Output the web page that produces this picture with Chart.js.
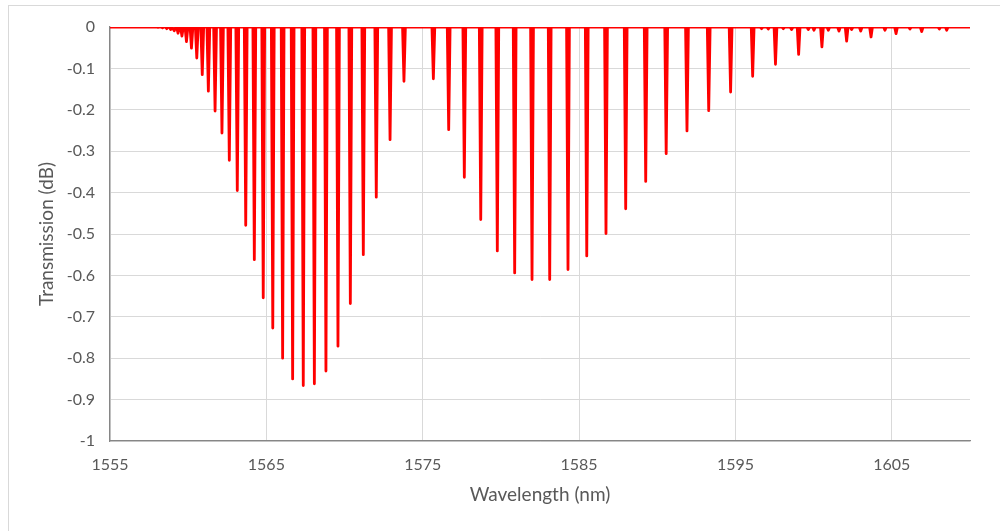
<!DOCTYPE html>
<html>
<head>
<meta charset="utf-8">
<script src="https://cdn.jsdelivr.net/npm/chart.js@4.4.0/dist/chart.umd.min.js"></script>
<style>
  html, body { margin: 0; padding: 0; background: #ffffff; }
  #wrap { width: 1000px; height: 531px; position: relative; }
</style>
</head>
<body>
<div id="wrap"><canvas id="c" width="1000" height="531"></canvas></div>
<script>
// ---- Data ----
// main resonance dips: wavelength (nm) and transmission at the dip (dB)
const dipWavelengths = [
  1558.07, 1558.36, 1558.63, 1558.88, 1559.11, 1559.35, 1559.60, 1559.89, 1560.21, 1560.55,
  1560.90, 1561.29, 1561.72, 1562.16, 1562.63, 1563.14, 1563.68, 1564.23, 1564.80, 1565.41,
  1566.04, 1566.68, 1567.36, 1568.07, 1568.81, 1569.58, 1570.37, 1571.20, 1572.03, 1572.91,
  1573.80, 1575.68, 1576.66, 1577.66, 1578.71, 1579.77, 1580.88, 1581.99, 1583.12, 1584.29,
  1585.49, 1586.72, 1587.98, 1589.26, 1590.57, 1591.90, 1593.29, 1594.69, 1596.10, 1597.56,
  1599.04, 1600.53, 1602.11, 1603.67, 1605.27, 1606.91, 1608.51
];
const dipDepths = [
  -0.001, -0.002, -0.004, -0.006, -0.009, -0.015, -0.022, -0.035, -0.051, -0.075,
  -0.115, -0.155, -0.203, -0.256, -0.322, -0.395, -0.479, -0.562, -0.654, -0.727,
  -0.800, -0.850, -0.866, -0.862, -0.831, -0.771, -0.668, -0.550, -0.411, -0.272,
  -0.131, -0.125, -0.248, -0.363, -0.465, -0.541, -0.594, -0.610, -0.610, -0.586,
  -0.553, -0.499, -0.439, -0.373, -0.306, -0.251, -0.202, -0.157, -0.119, -0.090,
  -0.066, -0.048, -0.034, -0.024, -0.016, -0.011, -0.008
];
// weak secondary dips on the long-wavelength side
const minorWavelengths = [1596.67, 1597.10, 1598.06, 1598.59, 1599.66, 1600.02, 1600.94, 1601.62,
  1602.43, 1603.01, 1604.56, 1606.16, 1608.04];
const minorDepths = [-0.004, -0.005, -0.004, -0.006, -0.006, -0.008, -0.008, -0.010,
  -0.006, -0.010, -0.008, -0.005, -0.005];
const baseline = 0;
const xRange = [1555, 1610];
const xTicks = [1555, 1565, 1575, 1585, 1595, 1605];
const yTicks = [0, -0.1, -0.2, -0.3, -0.4, -0.5, -0.6, -0.7, -0.8, -0.9, -1];
const xTitle = 'Wavelength (nm)';
const yTitle = 'Transmission (dB)';

// ---- Build the line points from the dip lists ----
const halfWidth = 0.09; // nm, visual half width of each dip
const dips = dipWavelengths.map((w, i) => ({ w, d: dipDepths[i] }))
  .concat(minorWavelengths.map((w, i) => ({ w, d: minorDepths[i] })))
  .sort((a, b) => a.w - b.w);
const points = [{ x: xRange[0], y: baseline }];
dips.forEach(p => {
  points.push({ x: p.w - halfWidth, y: baseline });
  points.push({ x: p.w, y: p.d });
  points.push({ x: p.w + halfWidth, y: baseline });
});
points.push({ x: xRange[1], y: baseline });

const frame = {
  id: 'frame',
  beforeDraw(chart) {
    const ctx = chart.ctx;
    ctx.save();
    ctx.fillStyle = '#ffffff';
    ctx.fillRect(0, 0, chart.width, chart.height);
    ctx.strokeStyle = '#d9d9d9';
    ctx.lineWidth = 1;
    ctx.strokeRect(8.5, 5.5, 1100, 600);
    ctx.restore();
  }
};

const textColor = '#595959';
new Chart(document.getElementById('c'), {
  type: 'line',
  data: {
    datasets: [{
      data: points,
      borderColor: '#ff0000',
      borderWidth: 2.8,
      pointRadius: 0,
      tension: 0,
      fill: false,
      borderJoinStyle: 'round',
      borderCapStyle: 'round'
    }]
  },
  options: {
    responsive: false,
    animation: false,
    plugins: { legend: { display: false }, tooltip: { enabled: false } },
    layout: { padding: { left: 31, right: 30, top: 27, bottom: 21 } },
    scales: {
      x: {
        type: 'linear',
        min: xRange[0], max: xRange[1],
        afterBuildTicks(s) { s.ticks = xTicks.map(v => ({ value: v })); },
        afterFit(s) { s.height = 69; },
        grid: { color: '#d9d9d9', lineWidth: 1, drawTicks: false },
        border: { color: '#868686', width: 1.3 },
        ticks: { color: textColor, font: { family: 'Lato', size: 16 }, padding: 14, maxRotation: 0,
                 callback: v => String(v) },
        title: { display: true, text: xTitle, color: textColor, font: { family: 'Lato', size: 19 }, padding: { top: 4, bottom: 4 } }
      },
      y: {
        type: 'linear',
        min: -1, max: 0,
        afterBuildTicks(s) { s.ticks = yTicks.map(v => ({ value: v })); },
        afterFit(s) { s.width = 79; },
        grid: { color: '#d9d9d9', lineWidth: 1, drawTicks: false },
        border: { color: '#868686', width: 1.3 },
        ticks: { color: textColor, font: { family: 'Lato', size: 16 }, padding: 15,
                 callback: v => (Math.abs(v) < 1e-9 ? '0' : String(Math.round(v * 10) / 10)) },
        title: { display: true, text: yTitle, color: textColor, font: { family: 'Lato', size: 19 }, padding: { top: 4, bottom: 4 } }
      }
    }
  },
  plugins: [frame]
});
</script>
</body>
</html>
